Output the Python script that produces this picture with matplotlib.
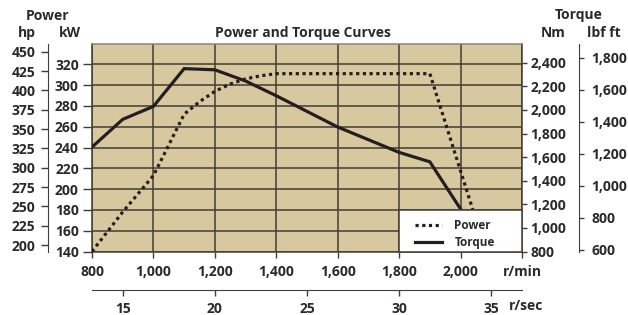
import matplotlib
matplotlib.use("Agg")
import matplotlib.pyplot as plt
from matplotlib.patches import Rectangle
from matplotlib.ticker import FixedLocator, FuncFormatter

# ---------------- data ----------------
rpm_power = [800, 900, 1000, 1100, 1150, 1200, 1250, 1300, 1350, 1400, 1900, 2040]
power_kw = [140, 178, 213, 272, 284, 294, 301, 306, 309, 311, 311, 180]

rpm_torque = [800, 900, 1000, 1100, 1200, 1300, 1400, 1600, 1800, 1900, 2000]
torque_nm = [1685, 1920, 2030, 2350, 2340, 2245, 2120, 1855, 1640, 1560, 1160]

rpm_ticks = [800, 1000, 1200, 1400, 1600, 1800, 2000, 2200]
rpm_labels = ["800", "1,000", "1,200", "1,400", "1,600", "1,800", "2,000", "r/min"]
rps_ticks = [15, 20, 25, 30, 35]
kw_ticks = [140, 160, 180, 200, 220, 240, 260, 280, 300, 320]
hp_ticks = [200, 225, 250, 275, 300, 325, 350, 375, 400, 425, 450]
nm_ticks = [800, 1000, 1200, 1400, 1600, 1800, 2000, 2200, 2400]
lbf_ticks = [600, 800, 1000, 1200, 1400, 1600, 1800]

HP_PER_KW = 1.345
HP_OFFSET = 3.3
LBF_PER_NM = 0.7376

# ---------------- style ----------------
FONT = ["Open Sans", "DejaVu Sans"]
plt.rcParams["font.family"] = FONT
plt.rcParams["font.weight"] = "bold"
TXT = "#2a2a2a"
GRID = "#433d33"
BG = "#d8c8a0"
LINE = "#231f20"
TICK_FS = 10

fig = plt.figure(figsize=(6.28, 3.15), dpi=100)
W, H = 628, 315
L, R, T, B = 92, 522, 43.5, 251.5
ax = fig.add_axes([L / W, 1 - B / H, (R - L) / W, (B - T) / H])
ax.set_facecolor(BG)
ax.set_xlim(800, 2200)
ax.set_ylim(140, 340)

ax.xaxis.set_major_locator(FixedLocator(rpm_ticks))
ax.set_xticklabels(rpm_labels)
ax.yaxis.set_major_locator(FixedLocator(kw_ticks))
ax.yaxis.set_major_formatter(FuncFormatter(lambda v, p: f"{v:.0f}"))
ax.grid(True, color=GRID, lw=1.1)
ax.set_axisbelow(True)
for s in ax.spines.values():
    s.set_color(GRID)
    s.set_linewidth(1.1)
ax.spines["top"].set_color("#8a8478")
ax.tick_params(axis="x", direction="out", length=4, width=1, color=GRID,
               pad=5.5, labelsize=TICK_FS, labelcolor=TXT)
ax.tick_params(axis="y", direction="out", length=6.5, width=1, color=GRID,
               pad=3, labelsize=TICK_FS, labelcolor=TXT)

# power (kW) on main axes
p_line, = ax.plot(rpm_power, power_kw, color=LINE, lw=2.3,
                  linestyle=(0, (1, 1.1)), solid_capstyle="butt",
                  dash_capstyle="butt", zorder=3)

# torque (Nm) axes
ax2 = ax.twinx()
ax2.set_ylim(800, 2563)
ax2.yaxis.set_major_locator(FixedLocator(nm_ticks))
ax2.yaxis.set_major_formatter(FuncFormatter(lambda v, p: f"{v:,.0f}"))
for s in ax2.spines.values():
    s.set_visible(False)
ax2.tick_params(axis="y", direction="out", length=3.5, width=1, color=GRID,
                pad=2.5, labelsize=TICK_FS, labelcolor=TXT)
t_line, = ax2.plot(rpm_torque, torque_nm, color=LINE, lw=2.3,
                   solid_joinstyle="miter", zorder=3)

# legend box
rect = Rectangle((1800, 140), 400, 40, transform=ax.transData,
                 facecolor="white", edgecolor=GRID, lw=1.1, zorder=4,
                 clip_on=False)
ax2.add_patch(rect)
leg = ax2.legend([p_line, t_line], ["Power", "Torque"], loc="center",
                 bbox_to_anchor=(455 / W, 1 - 234 / H),
                 bbox_transform=fig.transFigure, frameon=False,
                 prop={"size": 8.5, "weight": "bold"}, handlelength=2.3,
                 handletextpad=1.0, labelspacing=0.3, borderpad=0)
leg.set_zorder(6)
for t in leg.get_texts():
    t.set_color(TXT)

# hp axis (left, outer)
hp_ax = ax.secondary_yaxis((48 - L) / (R - L),
                           functions=(lambda k: k * HP_PER_KW + HP_OFFSET,
                                      lambda h: (h - HP_OFFSET) / HP_PER_KW))
hp_ax.yaxis.set_major_locator(FixedLocator(hp_ticks))
hp_ax.yaxis.set_major_formatter(FuncFormatter(lambda v, p: f"{v:.0f}"))
hp_ax.spines["left"].set_color(GRID)
hp_ax.tick_params(axis="y", direction="out", length=5, width=1, color=GRID,
                  pad=4, labelsize=TICK_FS, labelcolor=TXT)

# lbf ft axis (right, outer)
lbf_ax = ax2.secondary_yaxis((579.3 - L) / (R - L),
                             functions=(lambda n: n * LBF_PER_NM,
                                        lambda l: l / LBF_PER_NM))
lbf_ax.yaxis.set_major_locator(FixedLocator(lbf_ticks))
lbf_ax.yaxis.set_major_formatter(FuncFormatter(lambda v, p: f"{v:,.0f}"))
lbf_ax.spines["right"].set_color(GRID)
lbf_ax.tick_params(axis="y", direction="out", length=3.5, width=1, color=GRID,
                   pad=5, labelsize=TICK_FS, labelcolor=TXT)

# r/sec axis (bottom, outer)
rps_ax = ax.secondary_xaxis((B - 290) / (B - T),
                            functions=(lambda r: r / 60.0, lambda s: s * 60.0))
rps_ax.xaxis.set_major_locator(FixedLocator(rps_ticks))
rps_ax.xaxis.set_major_formatter(FuncFormatter(lambda v, p: f"{v:.0f}"))
rps_ax.spines["bottom"].set_color(GRID)
rps_ax.tick_params(axis="x", direction="out", length=4, width=1, color=GRID,
                   pad=4.5, labelsize=TICK_FS, labelcolor=TXT)

# texts
def ftext(x, y, s, size=10, ha="center"):
    fig.text(x / W, 1 - y / H, s, ha=ha, va="center", fontsize=size,
             fontweight="bold", color=TXT)

ftext(302.5, 32.5, "Power and Torque Curves", size=10)
ftext(48, 15.5, "Power", size=10)
ftext(26.5, 33, "hp", size=10)
ftext(70, 33, "kW", size=10)
ftext(579, 15.5, "Torque", size=10)
ftext(553, 33, "Nm", size=10)
ftext(604, 33, "lbf ft", size=10)
ftext(526, 306, "r/sec", size=TICK_FS)

fig.savefig("out.png", dpi=100)
